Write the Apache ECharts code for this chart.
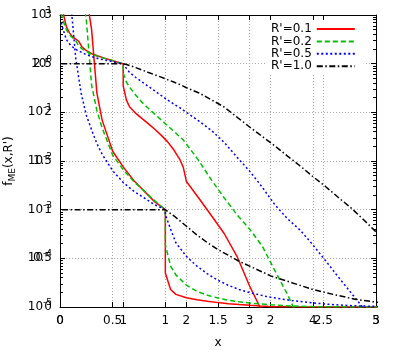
<!DOCTYPE html>
<html>
<head>
<meta charset="utf-8">
<script src="https://cdn.jsdelivr.net/npm/echarts@6/dist/echarts.min.js"></script>
<style>
    html, body { margin: 0; padding: 0; background: #fff; }
    #chart { width: 399px; height: 353px; }
</style>
</head>
<body>
<div id="chart"></div>
<script>
    // shared x samples (x = 1 appears twice: value just before / just after the jump)
    var xs = [0.02, 0.05, 0.1, 0.15, 0.2, 0.25, 0.3, 0.35, 0.4, 0.5, 0.6, 0.7, 0.8, 0.9, 1, 1,
        1.05, 1.1, 1.2, 1.3, 1.4, 1.5, 1.6, 1.7, 1.8, 1.9, 1.95, 2, 2.2, 2.4, 2.6, 2.8, 3,
        3.2, 3.4, 3.6, 3.8, 4, 4.2, 4.4, 4.6, 4.8, 5];

    // f_ME(x,R')
    var fR01 = [20, 11, 5.8, 4.3, 3.55, 3.2, 2.85, 2.2, 1.92, 1.6, 1.44, 1.3, 1.19, 1.08, 1, 0.35,
        0.18, 0.13, 0.095, 0.074, 0.058, 0.045, 0.034, 0.025, 0.017, 0.0105, 0.0075, 0.0038, 0.0017, 0.00074, 0.00032, 0.00011, 0.000027,
        0.000008, null, null, null, null, null, null, null, null, null];
    var fR02 = [11, 7.5, 5.0, 3.9, 3.4, 2.95, 2.28, 2.02, 1.84, 1.56, 1.41, 1.29, 1.19, 1.09, 1, 0.64,
        0.42, 0.33, 0.225, 0.16, 0.12, 0.092, 0.07, 0.053, 0.041, 0.031, 0.027, 0.0224, 0.01, 0.004, 0.00174, 0.00079, 0.0004,
        0.000178, 0.000056, 0.000018, 0.000005, null, null, null, null, null, null];
    var fR05 = [7.0, 5.0, 3.15, 2.55, 2.2, 1.97, 1.82, 1.68, 1.57, 1.4, 1.28, 1.19, 1.12, 1.05, 1, 0.95,
        0.8, 0.66, 0.52, 0.42, 0.34, 0.275, 0.222, 0.18, 0.148, 0.123, 0.111, 0.1, 0.066, 0.042, 0.024, 0.012, 0.0062,
        0.0029, 0.00126, 0.00065, 0.00038, 0.00019, 0.00009, 0.000042, 0.00002, 0.0000095, 0.0000045];
    var fR10 = [1, 1, 1, 1, 1, 1, 1, 1, 1, 1, 1, 1, 1, 1, 1, 1,
        0.96, 0.92, 0.83, 0.74, 0.66, 0.59, 0.53, 0.47, 0.42, 0.37, 0.345, 0.32, 0.25, 0.18, 0.128, 0.08, 0.05,
        0.032, 0.0204, 0.0126, 0.0079, 0.0048, 0.003, 0.0018, 0.0011, 0.00063, 0.00035];

    var names = ["R'=0.1", "R'=0.2", "R'=0.5", "R'=1.0"];
    var colors = ['#ff0000', '#00c000', '#0000ff', '#000000'];
    var dashes = ['solid', [5, 3], [2, 2.5], [6, 2.5, 1.5, 2.5]];
    var curves = [fR01, fR02, fR05, fR10];

    // axes: log panel (x 0..5, y 1e-5..1e1) overlaid with linear panel (x 0..3, y 0..3)
    var logMin = 1e-5, logMax = 10;
    var linXMax = 3, linYMax = 3;
    var minorTicks = [];
    for (var k = -5; k < 1; k++) {
        for (var m = 2; m < 10; m++) minorTicks.push(m * Math.pow(10, k));
    }

    var font = 'DejaVu Sans';
    var grid = {color: '#a8a8a8', type: [1, 2], width: 1};

    var series = [];
    [0, 1].forEach(function (panel) {
        curves.forEach(function (vals, i) {
            series.push({
                name: names[i],
                type: 'line',
                xAxisIndex: panel,
                yAxisIndex: panel,
                symbol: 'none',
                clip: true,
                data: xs.map(function (x, j) { return [x, vals[j]]; }),
                lineStyle: {color: colors[i], width: 1.5, type: dashes[i], cap: 'butt'},
                itemStyle: {color: colors[i]},
                z: 3 + i
            });
        });
    });

    var myChart = echarts.init(document.getElementById('chart'));
    myChart.setOption({
        animation: false,
        backgroundColor: '#fff',
        grid: {left: 60, right: 23, top: 15, bottom: 46, outerBoundsMode: 'none'},
        legend: {
            data: names,
            orient: 'vertical',
            left: 265,
            top: 21,
            align: 'right',
            itemWidth: 38,
            itemHeight: 14,
            itemGap: 0.4,
            padding: [2, 8, 2, 6],
            backgroundColor: '#fff',
            itemStyle: {opacity: 0},
            textStyle: {fontFamily: font, fontSize: 12, color: '#000'}
        },
        xAxis: [{
            type: 'value', min: 0, max: 5, interval: 1, position: 'bottom',
            name: 'x', nameLocation: 'middle', nameGap: 30,
            nameTextStyle: {fontFamily: font, fontSize: 12, color: '#000'},
            axisLine: {show: true, onZero: false, lineStyle: {color: '#000', width: 1}},
            axisTick: {inside: true, length: 5, lineStyle: {color: '#000'}},
            axisLabel: {fontFamily: font, fontSize: 12, color: '#000', margin: 8},
            splitLine: {show: true, showMinLine: false, showMaxLine: false, lineStyle: grid}
        }, {
            type: 'value', min: 0, max: linXMax, interval: 0.5, position: 'bottom',
            axisLine: {show: false, onZero: false},
            axisTick: {inside: true, length: 5, lineStyle: {color: '#000'}},
            axisLabel: {fontFamily: font, fontSize: 12, color: '#000', margin: 8},
            splitLine: {show: true, showMinLine: false, showMaxLine: false, lineStyle: grid}
        }, {
            type: 'value', min: 0, max: 5, interval: 1, position: 'top',
            axisLine: {show: true, onZero: false, lineStyle: {color: '#000', width: 1}},
            axisTick: {inside: true, length: 5, lineStyle: {color: '#000'}},
            axisLabel: {show: false}, splitLine: {show: false}
        }, {
            type: 'value', min: 0, max: linXMax, interval: 0.5, position: 'top',
            axisLine: {show: false, onZero: false},
            axisTick: {inside: true, length: 5, lineStyle: {color: '#000'}},
            axisLabel: {show: false}, splitLine: {show: false}
        }],
        yAxis: [{
            type: 'log', logBase: 10, min: logMin, max: logMax, position: 'left',
            name: '{f|f}{s|ME}{f|(x,R\')}', nameLocation: 'middle', nameGap: 34,
            nameTextStyle: {
                color: '#000',
                rich: {
                    f: {fontFamily: font, fontSize: 12, lineHeight: 16, color: '#000'},
                    s: {fontFamily: font, fontSize: 9, lineHeight: 9, verticalAlign: 'bottom', color: '#000'}
                }
            },
            axisLine: {show: true, onZero: false, lineStyle: {color: '#000', width: 1}},
            axisTick: {inside: true, length: 5, lineStyle: {color: '#000'}},
            axisLabel: {
                margin: 8,
                formatter: function (v) {
                    return '{b|10}{e|' + Math.round(Math.log10(v)) + '}';
                },
                rich: {
                    b: {fontFamily: font, fontSize: 12, lineHeight: 18, color: '#000'},
                    e: {fontFamily: font, fontSize: 9, lineHeight: 9, verticalAlign: 'top', color: '#000'}
                }
            },
            splitLine: {show: true, showMinLine: false, showMaxLine: false, lineStyle: grid}
        }, {
            type: 'value', min: 0, max: linYMax, interval: 0.5, position: 'left',
            axisLine: {show: false, onZero: false},
            axisTick: {show: false},
            axisLabel: {fontFamily: font, fontSize: 12, color: '#000', margin: 8},
            splitLine: {show: false}
        }, {
            type: 'log', logBase: 10, min: logMin, max: logMax, position: 'right',
            axisLine: {show: true, onZero: false, lineStyle: {color: '#000', width: 1}},
            axisTick: {inside: true, length: 5, lineStyle: {color: '#000'}},
            axisLabel: {show: false}, splitLine: {show: false}
        }, {
            type: 'log', logBase: 10, min: logMin, max: logMax, position: 'left',
            axisLine: {show: false, onZero: false},
            axisTick: {inside: true, length: 3, customValues: minorTicks, lineStyle: {color: '#000'}},
            axisLabel: {show: false}, splitLine: {show: false}
        }, {
            type: 'log', logBase: 10, min: logMin, max: logMax, position: 'right',
            axisLine: {show: false, onZero: false},
            axisTick: {inside: true, length: 3, customValues: minorTicks, lineStyle: {color: '#000'}},
            axisLabel: {show: false}, splitLine: {show: false}
        }],
        series: series
    });
</script>
</body>
</html>
